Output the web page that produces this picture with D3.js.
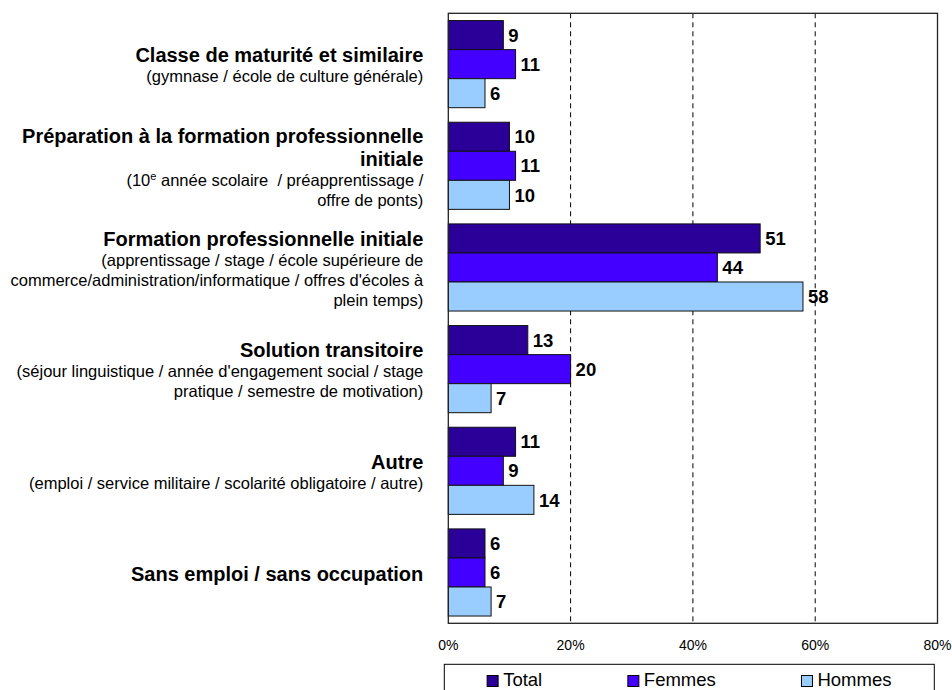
<!DOCTYPE html>
<html>
<head>
<meta charset="utf-8">
<script src="https://cdn.jsdelivr.net/npm/d3@7"></script>
<style>
  body { margin: 0; background: #fff; }
  svg { display: block; font-family: "Liberation Sans", Arial, sans-serif; }
  .title { font-weight: bold; font-size: 20px; }
  .note { font-size: 16.5px; white-space: pre; }
  .value { font-weight: bold; font-size: 18.5px; }
  .tick { font-size: 14px; }
  .legendText { font-size: 18.5px; }
</style>
</head>
<body>
<div id="chart"></div>
<script>
const svgWidth = 952;
const svgHeight = 690;

// category labels: bold title lines, then the lines in brackets
const titles = [
  ["Classe de maturité et similaire"],
  ["Préparation à la formation professionnelle", "initiale"],
  ["Formation professionnelle initiale"],
  ["Solution transitoire"],
  ["Autre"],
  ["Sans emploi / sans occupation"]
];
const notes = [
  ["(gymnase / école de culture générale)"],
  ["(10^e année scolaire  / préapprentissage /", "offre de ponts)"],
  ["(apprentissage / stage / école supérieure de", "commerce/administration/informatique / offres d'écoles à", "plein temps)"],
  ["(séjour linguistique / année d'engagement social / stage", "pratique / semestre de motivation)"],
  ["(emploi / service militaire / scolarité obligatoire / autre)"],
  []
];

const seriesNames = ["Total", "Femmes", "Hommes"];
const totalValues = [9, 10, 51, 13, 11, 6];
const femmesValues = [11, 11, 44, 20, 9, 6];
const hommesValues = [6, 10, 58, 7, 14, 7];
const tickValues = [0, 20, 40, 60, 80];

const colors = ["#2a0099", "#4400ff", "#99ccff"];

const plot = { left: 448.3, right: 937.5, top: 13.3, bottom: 623.3 };

const svg = d3.select("#chart")
  .append("svg")
  .attr("width", svgWidth)
  .attr("height", svgHeight);

const xScale = d3.scaleLinear()
  .domain([0, 80])
  .range([plot.left, plot.right]);

const yScale = d3.scaleBand()
  .domain(d3.range(titles.length))
  .range([plot.top, plot.bottom])
  .paddingInner(0.143)
  .paddingOuter(0.0715);

const inner = d3.scaleBand()
  .domain(seriesNames)
  .range([0, yScale.bandwidth()]);

// dashed gridlines
svg.append("g")
  .selectAll("line")
  .data(tickValues.filter(t => t > 0 && t < 80))
  .join("line")
  .attr("x1", d => xScale(d))
  .attr("x2", d => xScale(d))
  .attr("y1", plot.top)
  .attr("y2", plot.bottom)
  .attr("stroke", "#000")
  .attr("stroke-width", 1)
  .attr("stroke-dasharray", "5,4");

// bars
const rows = titles.map((t, i) => ({
  i,
  values: [totalValues[i], femmesValues[i], hommesValues[i]]
}));

const groups = svg.append("g")
  .selectAll("g")
  .data(rows)
  .join("g")
  .attr("transform", d => `translate(0, ${yScale(d.i)})`);

groups.selectAll("rect")
  .data(d => d.values.map((v, k) => ({ v, k })))
  .join("rect")
  .attr("x", xScale(0))
  .attr("y", d => inner(seriesNames[d.k]))
  .attr("width", d => xScale(d.v) - xScale(0))
  .attr("height", inner.bandwidth())
  .attr("fill", d => colors[d.k])
  .attr("stroke", "#111")
  .attr("stroke-width", 1);

groups.selectAll("text")
  .data(d => d.values.map((v, k) => ({ v, k })))
  .join("text")
  .attr("class", "value")
  .attr("x", d => xScale(d.v) + 5)
  .attr("y", d => inner(seriesNames[d.k]) + inner.bandwidth() / 2)
  .attr("dy", "0.36em")
  .text(d => d.v);

// plot frame
svg.append("rect")
  .attr("x", plot.left)
  .attr("y", plot.top)
  .attr("width", plot.right - plot.left)
  .attr("height", plot.bottom - plot.top)
  .attr("fill", "none")
  .attr("stroke", "#222")
  .attr("stroke-width", 1.3);

// x tick labels
svg.append("g")
  .selectAll("text")
  .data(tickValues)
  .join("text")
  .attr("class", "tick")
  .attr("x", d => xScale(d))
  .attr("y", 650)
  .attr("text-anchor", "middle")
  .text(d => d + "%");

// category labels, block centred on the band
const boldH = 23.3, noteH = 20;
titles.forEach((t, i) => {
  const lines = t.map(s => ({ s, bold: true })).concat(notes[i].map(s => ({ s, bold: false })));
  const H = d3.sum(lines, l => l.bold ? boldH : noteH);
  const c = yScale(i) + yScale.bandwidth() / 2;
  let y = c - H / 2 + 20;
  lines.forEach((l, j) => {
    if (j > 0) y += l.bold ? boldH : noteH;
    const txt = svg.append("text")
      .attr("class", l.bold ? "title" : "note")
      .attr("x", 423.3)
      .attr("y", y)
      .attr("text-anchor", "end");
    if (l.s.includes("^")) {
      const [a, b] = l.s.split("^");
      txt.append("tspan").text(a);
      txt.append("tspan").attr("dy", -6).style("font-size", "11px").text(b[0]);
      txt.append("tspan").attr("dy", 6).text(b.slice(1));
    } else {
      txt.text(l.s);
    }
  });
});

// legend
const legend = { left: 444.3, right: 934.3, top: 664.3 };
svg.append("rect")
  .attr("x", legend.left)
  .attr("y", legend.top)
  .attr("width", legend.right - legend.left)
  .attr("height", 40)
  .attr("fill", "#fff")
  .attr("stroke", "#000")
  .attr("stroke-width", 1);

const items = svg.append("g")
  .selectAll("g")
  .data(seriesNames)
  .join("g");

items.append("text")
  .attr("class", "legendText")
  .attr("y", 686)
  .attr("x", 16)
  .text(d => d);

const widths = [];
items.each(function() { widths.push(16 + this.querySelector("text").getComputedTextLength()); });
const pad = (legend.right - legend.left - d3.sum(widths)) / (2 * widths.length);
let cx = legend.left;
items.attr("transform", (d, i) => {
  const x = cx + pad;
  cx = x + widths[i] + pad;
  return `translate(${x}, 0)`;
});

items.append("rect")
  .attr("x", 0)
  .attr("y", 675.5)
  .attr("width", 11)
  .attr("height", 11)
  .attr("fill", (d, i) => colors[i])
  .attr("stroke", "#000")
  .attr("stroke-width", 1);
</script>
</body>
</html>
